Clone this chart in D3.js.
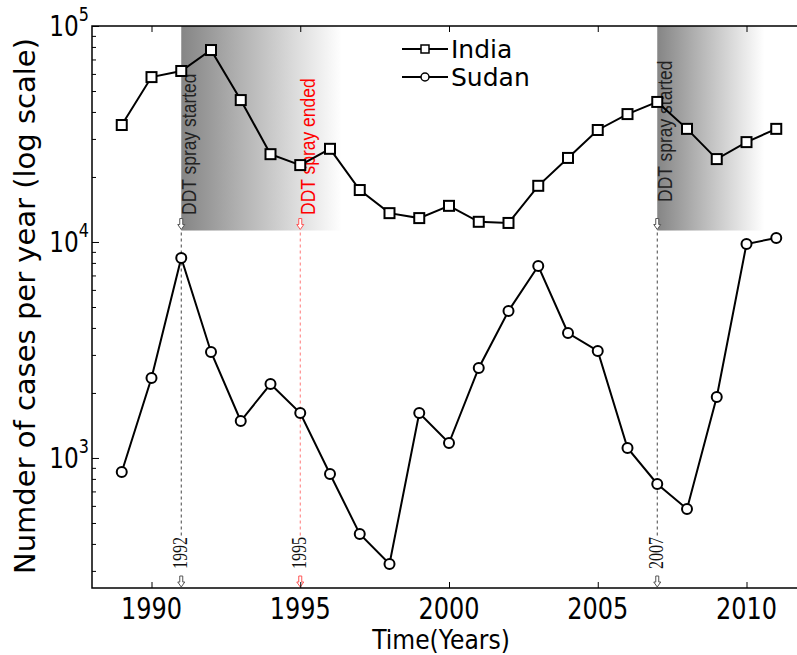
<!DOCTYPE html>
<html lang="en">
<head>
    <meta charset="UTF-8">
    <title>India vs Sudan cases</title>
    <script src="https://d3js.org/d3.v7.min.js"></script>
    <style>
        body { margin: 0; background: #fff; }
        svg { display: block; }
        text { font-family: "DejaVu Sans", sans-serif; }
    </style>
</head>
<body>
<svg width="797" height="655"></svg>
<script>
    // data
    const years = [1989, 1990, 1991, 1992, 1993, 1994, 1995, 1996, 1997, 1998, 1999, 2000,
                   2001, 2002, 2003, 2004, 2005, 2006, 2007, 2008, 2009, 2010, 2011];
    const india = [34800, 58000, 61900, 77400, 45400, 25500, 22700, 27000, 17400, 13600, 12900, 14700,
                   12400, 12250, 18200, 24500, 33000, 39100, 44500, 33400, 24200, 29000, 33400];
    const sudan = [861, 2345, 8430, 3096, 1483, 2200, 1615, 843, 445, 323, 1615, 1173,
                   2610, 4795, 7740, 3790, 3128, 1112, 758, 581, 1915, 9790, 10440];
    const xTicks = [1990, 1995, 2000, 2005, 2010];
    const yMajor = [1e3, 1e4, 1e5];
    const shadeSpans = [[1991, 1996.4], [2007, 2010.6]];
    const shadeLow = 11300;
    const events = [1991, 1995, 2007];
    const eventLabels = ["1992", "1995", "2007"];
    const eventText = ["DDT spray started", "DDT spray ended", "DDT spray started"];
    const eventColor = ["#222", "red", "#222"];

    const svg = d3.select("svg");
    const x = d3.scaleLinear().domain([1988, 2012]).range([92, 806]);
    const y = d3.scaleLog().domain([250, 1e5]).range([588, 26]);

    // shaded spray periods
    const grad = svg.append("defs").append("linearGradient").attr("id", "fade");
    grad.append("stop").attr("offset", "0%").attr("stop-color", "#858585");
    grad.append("stop").attr("offset", "100%").attr("stop-color", "#ffffff");
    svg.selectAll(".shade").data(shadeSpans).enter().append("rect")
        .attr("x", d => x(d[0])).attr("width", d => x(d[1]) - x(d[0]))
        .attr("y", y(1e5)).attr("height", y(shadeLow) - y(1e5))
        .attr("fill", "url(#fade)");

    // dashed event lines
    svg.selectAll(".ev").data(events).enter().append("line")
        .attr("x1", d => x(d)).attr("x2", d => x(d))
        .attr("y1", y(shadeLow) + 2).attr("y2", 537)
        .attr("stroke", (d, i) => i === 1 ? "#f77" : "#444")
        .attr("stroke-width", 1).attr("stroke-dasharray", "3,3");

    // hollow arrows
    function arrow(cx, bottom, col) {
        const p = `M${cx - 1.5},${bottom - 11} L${cx + 1.5},${bottom - 11} L${cx + 1.5},${bottom - 5}
                   L${cx + 3.5},${bottom - 5} L${cx},${bottom} L${cx - 3.5},${bottom - 5} L${cx - 1.5},${bottom - 5} Z`;
        svg.append("path").attr("d", p).attr("fill", "#fff").attr("stroke", col).attr("stroke-width", 1);
    }
    events.forEach((e, i) => {
        const col = i === 1 ? "#f55" : "#555";
        arrow(x(e), y(shadeLow) - 1, col);
        arrow(x(e), 587, col);
    });

    // rotated annotations (a bit stretched sideways like the original)
    svg.selectAll(".ann").data(events).enter().append("text")
        .attr("transform", (d, i) => `translate(${x(d) + 15},${i === 2 ? 202 : 215}) scale(1.2,1) rotate(-90)`)
        .style("font-family", "'Liberation Sans', Arial, sans-serif")
        .style("font-size", "17.5px")
        .attr("fill", (d, i) => eventColor[i])
        .text((d, i) => eventText[i]);

    svg.selectAll(".evlab").data(events).enter().append("text")
        .attr("transform", d => `translate(${x(d) + 6},553) scale(1.25,1) rotate(-90)`)
        .attr("text-anchor", "middle")
        .style("font-family", "'Liberation Serif', 'DejaVu Serif', serif")
        .style("font-size", "16px")
        .attr("fill", "#111")
        .text((d, i) => eventLabels[i]);

    // series lines and markers
    const line = d3.line().x((d, i) => x(years[i])).y(d => y(d));
    svg.append("path").datum(india).attr("d", line)
        .attr("fill", "none").attr("stroke", "#000").attr("stroke-width", 2);
    svg.append("path").datum(sudan).attr("d", line)
        .attr("fill", "none").attr("stroke", "#000").attr("stroke-width", 2);

    svg.selectAll(".sq").data(india).enter().append("rect")
        .attr("x", (d, i) => x(years[i]) - 5).attr("y", d => y(d) - 5)
        .attr("width", 10).attr("height", 10)
        .attr("fill", "#fff").attr("stroke", "#000").attr("stroke-width", 2);
    svg.selectAll(".ci").data(sudan).enter().append("circle")
        .attr("cx", (d, i) => x(years[i])).attr("cy", d => y(d)).attr("r", 5)
        .attr("fill", "#fff").attr("stroke", "#000").attr("stroke-width", 2);

    // frame + inward ticks
    svg.append("rect").attr("x", 92).attr("y", 26).attr("width", 806 - 92).attr("height", 588 - 26)
        .attr("fill", "none").attr("stroke", "#000").attr("stroke-width", 1.5);

    const yMinor = y.ticks().filter(v => yMajor.indexOf(v) < 0);
    svg.append("g").attr("transform", "translate(92,0)")
        .call(d3.axisRight(y).tickValues(yMajor).tickSize(7).tickFormat(""))
        .call(g => g.select(".domain").remove());
    svg.append("g").attr("transform", "translate(92,0)")
        .call(d3.axisRight(y).tickValues(yMinor).tickSize(4).tickFormat(""))
        .call(g => g.select(".domain").remove());
    svg.append("g").attr("transform", "translate(0,588)")
        .call(d3.axisTop(x).tickValues(xTicks).tickSize(6).tickFormat(""))
        .call(g => g.select(".domain").remove());
    svg.append("g").attr("transform", "translate(0,26)")
        .call(d3.axisBottom(x).tickValues(xTicks).tickSize(6).tickFormat(""))
        .call(g => g.select(".domain").remove());

    // tick labels (narrow, as in the original)
    svg.selectAll(".xl").data(xTicks).enter().append("text")
        .attr("transform", d => `translate(${x(d)},619) scale(0.8,1)`)
        .attr("text-anchor", "middle").style("font-size", "30px")
        .text(d => d);

    const yl = svg.selectAll(".yl").data(yMajor).enter().append("text")
        .attr("transform", d => `translate(89,${y(d) + 10}) scale(0.8,1)`)
        .attr("text-anchor", "end").style("font-size", "29px");
    yl.append("tspan").text("10");
    yl.append("tspan").attr("dy", -15).style("font-size", "20px").text(d => Math.round(Math.log10(d)));

    // axis titles
    svg.append("text").attr("transform", "translate(441,649) scale(0.87,1)").attr("text-anchor", "middle")
        .style("font-size", "27px").text("Time(Years)");
    svg.append("text").attr("transform", "translate(35,306) rotate(-90)")
        .attr("text-anchor", "middle").style("font-size", "29px")
        .text("Numder of cases per year (log scale)");

    // legend
    const legend = [{name: "India", shape: "sq", ly: 49}, {name: "Sudan", shape: "ci", ly: 77}];
    legend.forEach(l => {
        svg.append("line").attr("x1", 402).attr("x2", 448).attr("y1", l.ly).attr("y2", l.ly)
            .attr("stroke", "#000").attr("stroke-width", 2);
        if (l.shape === "sq") {
            svg.append("rect").attr("x", 421).attr("y", l.ly - 4).attr("width", 8).attr("height", 8)
                .attr("fill", "#fff").attr("stroke", "#000").attr("stroke-width", 1.5);
        } else {
            svg.append("circle").attr("cx", 425).attr("cy", l.ly).attr("r", 4)
                .attr("fill", "#fff").attr("stroke", "#000").attr("stroke-width", 1.5);
        }
        svg.append("text").attr("x", 451).attr("y", l.ly + 9).style("font-size", "25px").text(l.name);
    });
</script>
</body>
</html>
